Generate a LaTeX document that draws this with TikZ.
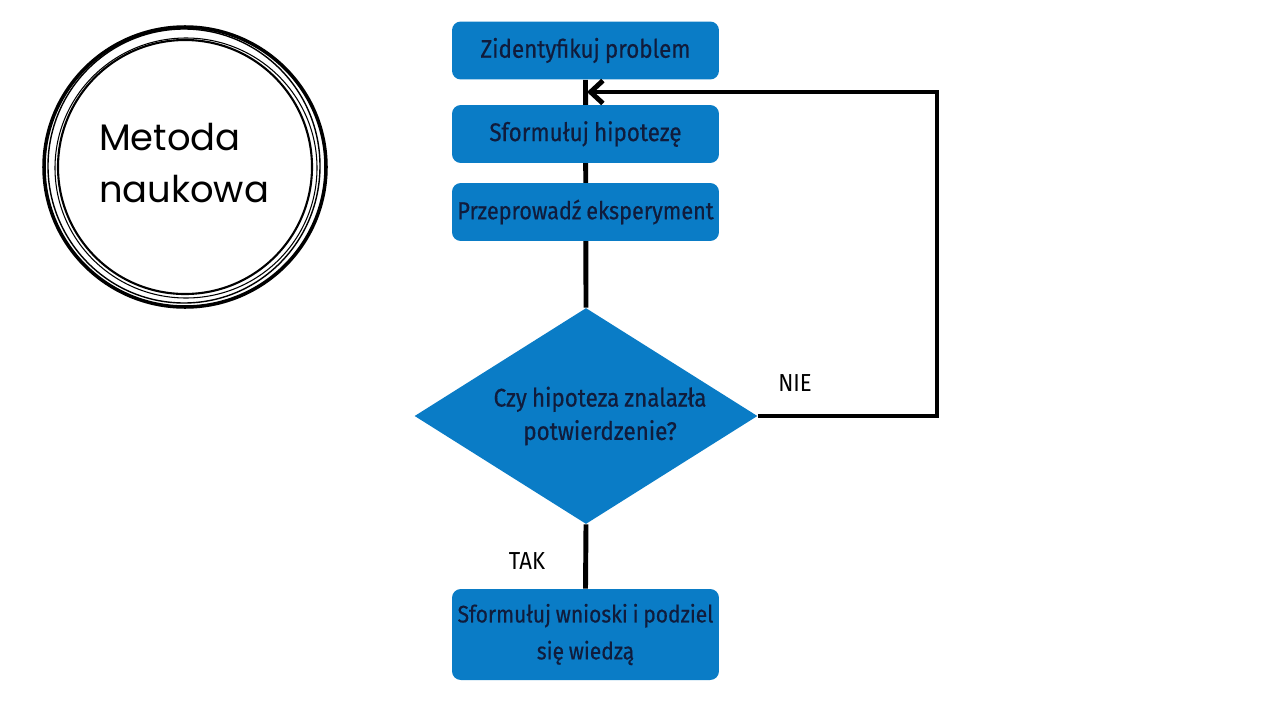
\documentclass[tikz,border=0pt]{standalone}
\usepackage{fontspec}
\setmainfont{Fira Sans}[FakeStretch=0.88,FakeBold=0.5,WordSpace=0.85]
\newfontfamily\tagfont{Fira Sans}[FakeStretch=0.9]
\newfontfamily\handfont{Poppins}
\usepackage{tikz}
\usetikzlibrary{arrows.meta,shapes.geometric,backgrounds}

\definecolor{stepblue}{HTML}{0A7CC6}
\definecolor{steptext}{HTML}{101C3C}

\begin{document}
\begin{tikzpicture}[x=0.02cm,y=-0.02cm]
\tikzset{
  stepbox/.style={fill=stepblue,rounded corners=5pt,minimum width=5.34cm,
    minimum height=1.16cm,inner sep=0pt,text=steptext,font=\fontsize{14.5}{19}\selectfont,align=center},
  askbox/.style={diamond,fill=stepblue,aspect=1.59,minimum width=6.86cm,minimum height=4.32cm,
    inner sep=0pt,text=steptext,font=\fontsize{14.5}{19}\selectfont,align=center},
  flow/.style={line width=2.8pt},
  tag/.style={font=\tagfont\fontsize{14}{16}\selectfont}
}
\useasboundingbox (0,0) rectangle (1280,720);
% title ring
\draw [line width=2pt] (185,167) circle [x radius=141, y radius=140];
\draw [line width=0.8pt] (184,166) circle [x radius=136, y radius=137];
\draw [line width=0.6pt] (186,168) circle [x radius=131, y radius=130];
\draw [line width=1.2pt] (185,167) circle [x radius=127, y radius=127];
\node [font=\handfont\fontsize{21}{30}\selectfont,align=left] (title) at (184,163) {Metoda\\naukowa};
% steps
\node [stepbox] (zid) at (585.5,50.5) {Zidentyfikuj problem};
\node [stepbox] (hip) at (585.5,134) {Sformułuj hipotezę};
\node [stepbox,font=\fontsize{14}{19}\selectfont] (eks) at (585.5,212) {Przeprowadź eksperyment};
\node [askbox] (ask) at (586,416) {\hspace*{16pt}Czy hipoteza znalazła\\\hspace*{16pt}potwierdzenie?};
\node [stepbox,minimum height=1.82cm,font=\fontsize{13.6}{21}\selectfont] (wni) at (585.5,634.5) {Sformułuj wnioski i podziel\\się wiedzą};
\coordinate (back) at (587,92);
\node [tag] (nie) at (795,383) {NIE};
\node [tag] (tak) at (527,561) {TAK};
% connectors
\begin{scope}[on background layer]
\draw [flow] (zid.south) -- (ask.north);
\draw [flow] (ask.south) -- (wni.north);
\end{scope}
\draw [flow,-{Straight Barb[length=7pt,width=13pt]}] (ask.east) -- (937,416) |- (back);
\end{tikzpicture}
\end{document}
